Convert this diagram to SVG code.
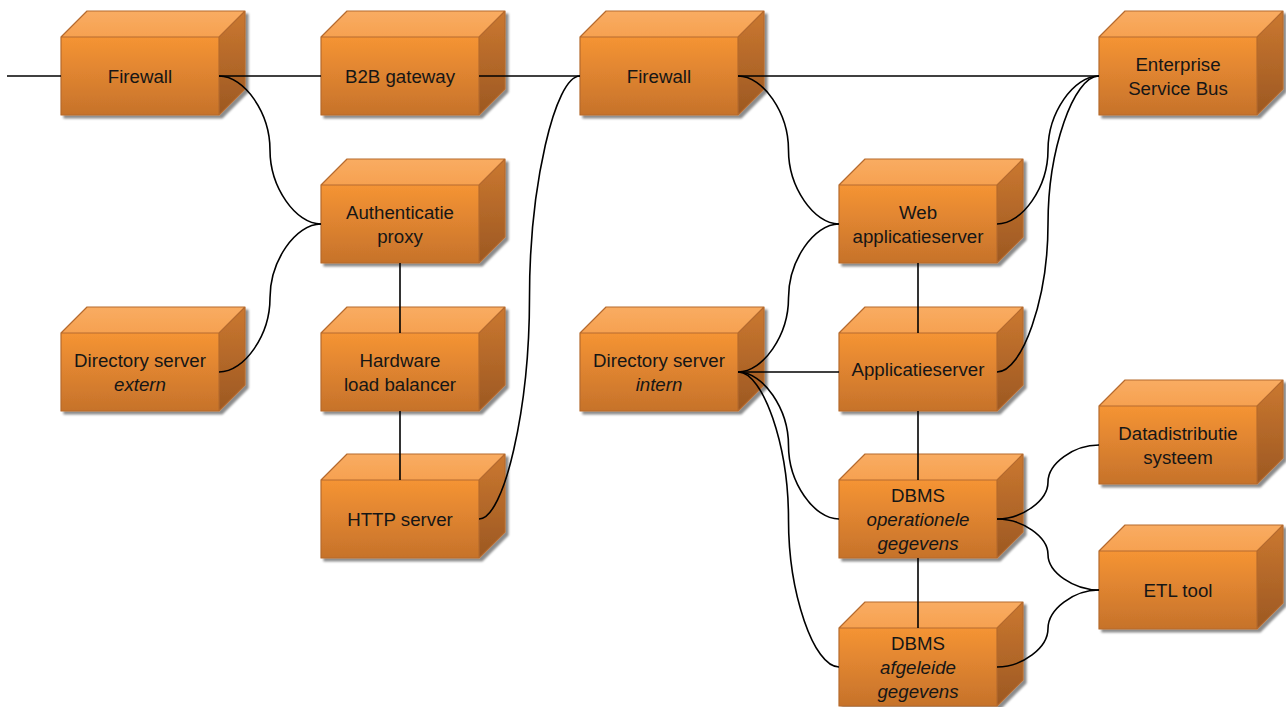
<svg xmlns="http://www.w3.org/2000/svg" xmlns:xlink="http://www.w3.org/1999/xlink" width="1286" height="707" viewBox="0 0 1286 707">
  <defs>
    <linearGradient id="gFront" x1="0" y1="0" x2="0" y2="1">
      <stop offset="0" stop-color="#F59434"/>
      <stop offset="1" stop-color="#C6722B"/>
    </linearGradient>
    <linearGradient id="gTop" x1="0" y1="0" x2="0" y2="1">
      <stop offset="0" stop-color="#F9AC62"/>
      <stop offset="1" stop-color="#F6A150"/>
    </linearGradient>
    <linearGradient id="gSide" x1="0" y1="0" x2="0" y2="1">
      <stop offset="0" stop-color="#CB7830"/>
      <stop offset="1" stop-color="#9C5822"/>
    </linearGradient>
    <filter id="shadow" x="-10%" y="-10%" width="125%" height="130%">
      <feDropShadow dx="3" dy="3" stdDeviation="1.2" flood-color="#000" flood-opacity="0.45"/>
    </filter>
    <!-- 3D box, origin at the front face's top-left corner -->
    <g id="box">
      <rect x="0" y="0" width="158" height="78" fill="url(#gFront)"/>
      <polygon points="0,0 26,-26 184,-26 158,0" fill="url(#gTop)"/>
      <polygon points="158,0 184,-26 184,52 158,78" fill="url(#gSide)"/>
      <path d="M0,0 L26,-26 L184,-26 L184,52 L158,78 L0,78 Z M0,0 L158,0 L184,-26 M158,0 L158,78" fill="none" stroke="#B56A2E" stroke-width="1.2" stroke-linejoin="round"/>
    </g>
  </defs>
  <style>
    .lbl { font-family: "Liberation Sans", Arial, sans-serif; font-size: 18.7px; fill: #161616; text-anchor: middle; }
    .it { font-style: italic; }
    .node > use { filter: url(#shadow); }
    .conn { fill: none; stroke: #000; stroke-width: 1.6; }
  </style>

  <rect width="1286" height="707" fill="#fff"/>

  <g id="nodes">
    <g id="firewall-ext" class="node" transform="translate(61,37)">
      <use href="#box"/>
      <text class="lbl" x="79" y="45.5">Firewall</text>
    </g>
    <g id="b2b-gateway" class="node" transform="translate(321,37)">
      <use href="#box"/>
      <text class="lbl" x="79" y="45.5">B2B gateway</text>
    </g>
    <g id="firewall-int" class="node" transform="translate(580,37)">
      <use href="#box"/>
      <text class="lbl" x="79" y="45.5">Firewall</text>
    </g>
    <g id="esb" class="node" transform="translate(1099,37)">
      <use href="#box"/>
      <text class="lbl" x="79" y="33.5">Enterprise</text>
      <text class="lbl" x="79" y="57.5">Service Bus</text>
    </g>
    <g id="auth-proxy" class="node" transform="translate(321,185)">
      <use href="#box"/>
      <text class="lbl" x="79" y="33.5">Authenticatie</text>
      <text class="lbl" x="79" y="57.5">proxy</text>
    </g>
    <g id="web-appserver" class="node" transform="translate(839,185)">
      <use href="#box"/>
      <text class="lbl" x="79" y="33.5">Web</text>
      <text class="lbl" x="79" y="57.5">applicatieserver</text>
    </g>
    <g id="dir-extern" class="node" transform="translate(61,333)">
      <use href="#box"/>
      <text class="lbl" x="79" y="33.5">Directory server</text>
      <text class="lbl it" x="79" y="57.5">extern</text>
    </g>
    <g id="load-balancer" class="node" transform="translate(321,333)">
      <use href="#box"/>
      <text class="lbl" x="79" y="33.5">Hardware</text>
      <text class="lbl" x="79" y="57.5">load balancer</text>
    </g>
    <g id="dir-intern" class="node" transform="translate(580,333)">
      <use href="#box"/>
      <text class="lbl" x="79" y="33.5">Directory server</text>
      <text class="lbl it" x="79" y="57.5">intern</text>
    </g>
    <g id="appserver" class="node" transform="translate(839,333)">
      <use href="#box"/>
      <text class="lbl" x="79" y="43">Applicatieserver</text>
    </g>
    <g id="datadistributie" class="node" transform="translate(1099,406)">
      <use href="#box"/>
      <text class="lbl" x="79" y="33.5">Datadistributie</text>
      <text class="lbl" x="79" y="57.5">systeem</text>
    </g>
    <g id="http-server" class="node" transform="translate(321,480)">
      <use href="#box"/>
      <text class="lbl" x="79" y="45.5">HTTP server</text>
    </g>
    <g id="dbms-operationeel" class="node" transform="translate(839,480)">
      <use href="#box"/>
      <text class="lbl" x="79" y="21.5">DBMS</text>
      <text class="lbl it" x="79" y="45.5">operationele</text>
      <text class="lbl it" x="79" y="69.5">gegevens</text>
    </g>
    <g id="etl-tool" class="node" transform="translate(1099,551)">
      <use href="#box"/>
      <text class="lbl" x="79" y="45.5">ETL tool</text>
    </g>
    <g id="dbms-afgeleid" class="node" transform="translate(839,628)">
      <use href="#box"/>
      <text class="lbl" x="79" y="21.5">DBMS</text>
      <text class="lbl it" x="79" y="45.5">afgeleide</text>
      <text class="lbl it" x="79" y="69.5">gegevens</text>
    </g>
  </g>

  <g id="connectors" class="conn">
    <!-- straight links -->
    <path d="M7,76 H61"/>
    <path d="M219,76 H321"/>
    <path d="M479,76 H580"/>
    <path d="M738,76 H1099"/>
    <path d="M738,372 H839"/>
    <path d="M400,263 V333"/>
    <path d="M400,411 V480"/>
    <path d="M918,263 V333"/>
    <path d="M918,411 V480"/>
    <path d="M918,558 V628"/>
    <!-- curved links -->
    <path d="M219,76 C244.5,76 270,113 270,150 C270,187 295.5,224 321,224"/>
    <path d="M219,372 C244.5,372 270,335 270,298 C270,261 295.5,224 321,224"/>
    <path d="M479,519 C504.25,519 529.5,408.25 529.5,297.5 C529.5,186.75 554.75,76 580,76"/>
    <path d="M738,76 C763.25,76 788.5,113 788.5,150 C788.5,187 813.75,224 839,224"/>
    <path d="M997,224 C1022.5,224 1048,187 1048,150 C1048,113 1073.5,76 1099,76"/>
    <path d="M997,372 C1022.5,372 1048,298 1048,224 C1048,150 1073.5,76 1099,76"/>
    <path d="M738,372 C763.25,372 788.5,335 788.5,298 C788.5,261 813.75,224 839,224"/>
    <path d="M738,372 C763.25,372 788.5,408.75 788.5,445.5 C788.5,482.25 813.75,519 839,519"/>
    <path d="M738,372 C763.25,372 788.5,445.75 788.5,519.5 C788.5,593.25 813.75,667 839,667"/>
    <path d="M997,519 C1022.5,519 1048,500.5 1048,482 C1048,463.5 1073.5,445 1099,445"/>
    <path d="M997,519 C1022.5,519 1048,536.75 1048,554.5 C1048,572.25 1073.5,590 1099,590"/>
    <path d="M997,667 C1022.5,667 1048,647.75 1048,628.5 C1048,609.25 1073.5,590 1099,590"/>
  </g>
</svg>
